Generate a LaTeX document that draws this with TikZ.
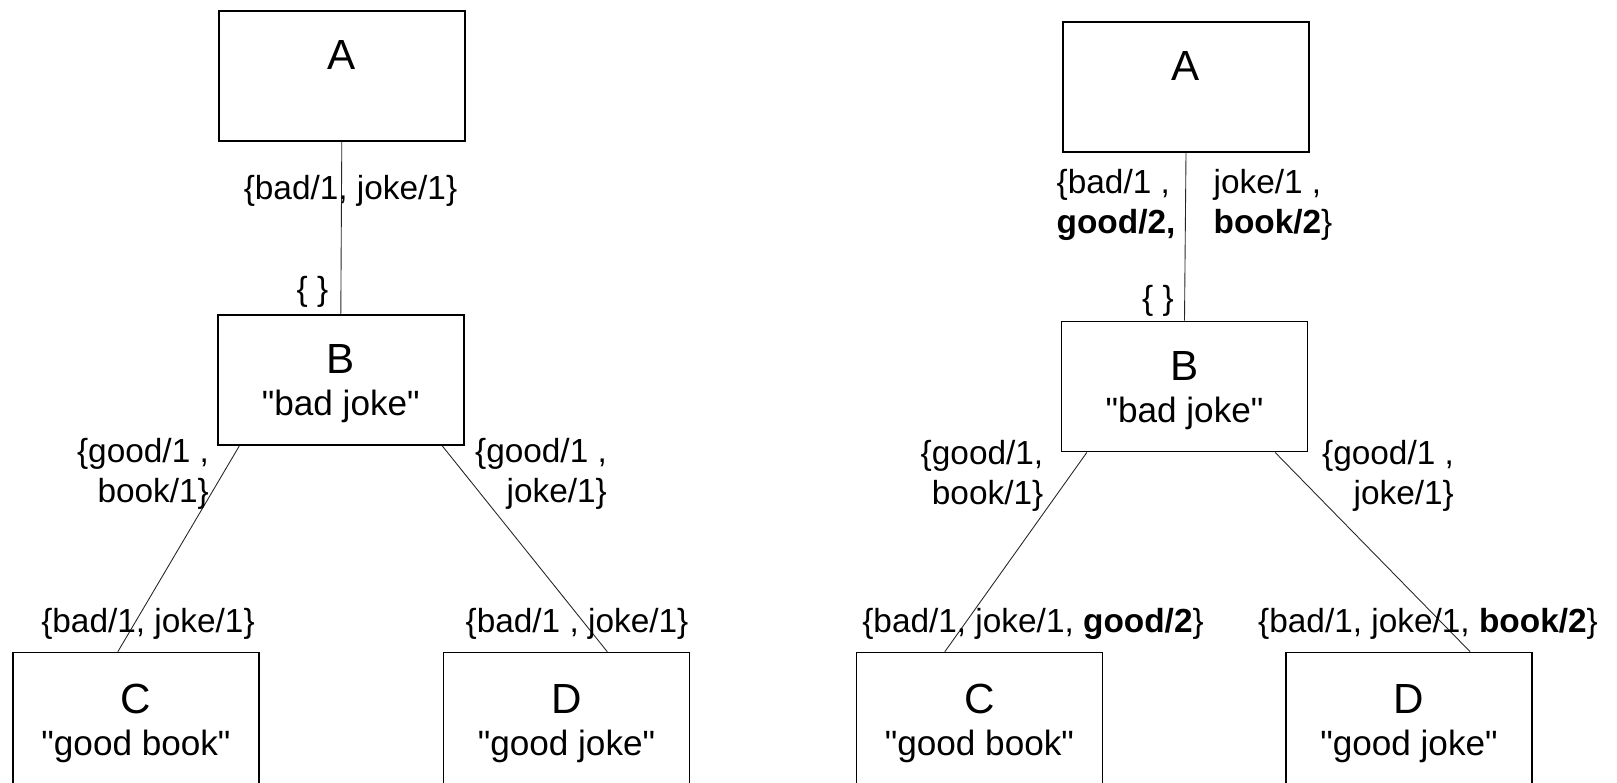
\documentclass[tikz,border=0pt]{standalone}
\usepackage{fontspec}
\setmainfont{Liberation Sans}
\usepackage{tikz}

\newcommand{\boxletter}[1]{\rule{0pt}{24pt}{\fontsize{24}{24}\selectfont #1}}
\newcommand{\quoted}[1]{\textquotedbl#1\textquotedbl}

\begin{document}
\begin{tikzpicture}[
            x=0.02cm, y=-0.02cm,
            squarebox/.style={rectangle, align=center, draw=black, line width=1pt, minimum width=4.92cm, minimum height=2.6cm, inner sep=0pt, font=\fontsize{20}{24}\selectfont},
            lowbox/.style={squarebox, minimum height=2.68cm},
            setlabel/.style={inner sep=0pt, align=center, font=\fontsize{19}{23}\selectfont},
            edge/.style={draw=black!85, line width=0.5pt},
        ]
        \useasboundingbox (0,0) rectangle (1617,783);
        \clip (0,0) rectangle (1617,783);

        % Nodes, left tree.
        \node[squarebox] (left_a) at (341.8,76.3)  {\boxletter{A}\\\strut};
        \node[squarebox] (left_b) at (340.8,380)   {\boxletter{B}\\\strut\quoted{bad joke}};
        \node[lowbox]    (left_c) at (136,719.6)   {\boxletter{C}\\\strut\quoted{good book}};
        \node[lowbox]    (left_d) at (566.5,719.6) {\boxletter{D}\\\strut\quoted{good joke}};

        % Nodes, right tree.
        \node[squarebox] (right_a) at (1186,87)      {\boxletter{A}\\\strut};
        \node[squarebox] (right_b) at (1184.5,386.6) {\boxletter{B}\\\strut\quoted{bad joke}};
        \node[lowbox]    (right_c) at (979.4,719.6)  {\boxletter{C}\\\strut\quoted{good book}};
        \node[lowbox]    (right_d) at (1409,719.6)   {\boxletter{D}\\\strut\quoted{good joke}};

        % Lines.
        \draw[edge] (left_a.south) -- (left_b.north);
        \draw[edge] (left_b.213) -- (left_c.105);
        \draw[edge] (left_b.327) -- (left_d.59);
        \draw[edge] (right_a.south) -- (right_b.north);
        \draw[edge] (right_b.214) -- (right_c.117);
        \draw[edge] (right_b.324) -- (right_d.48);

        % Labels, left tree.
        \node[setlabel] (left_ab_set) at (350.5,190.7) {\{bad/1, joke/1\}};
        \node[setlabel] (left_b_set)  at (312.5,292)   {\{ \}};
        \node[setlabel, align=right] (left_bc_set) at (143,474) {\{good/1 ,\\book/1\}};
        \node[setlabel, align=right] (left_bd_set) at (541,474) {\{good/1 ,\\joke/1\}};
        \node[setlabel] (left_c_set)  at (148,624)     {\{bad/1, joke/1\}};
        \node[setlabel] (left_d_set)  at (577,624)     {\{bad/1 , joke/1\}};

        % Labels, right tree.
        \node[setlabel, align=left] (right_ab_set_a) at (1116,205) {\{bad/1 ,\\\textbf{good/2,}};
        \node[setlabel, align=left] (right_ab_set_b) at (1273,205) {joke/1 ,\\\textbf{book/2}\}};
        \node[setlabel] (right_b_set) at (1158,301) {\{ \}};
        \node[setlabel, align=right] (right_bc_set) at (982,476)  {\{good/1,\\book/1\}};
        \node[setlabel, align=right] (right_bd_set) at (1388,476) {\{good/1 ,\\joke/1\}};
        \node[setlabel] (right_c_set) at (1033,624) {\{bad/1, joke/1, \textbf{good/2}\}};
        \node[setlabel] (right_d_set) at (1428,624) {\{bad/1, joke/1, \textbf{book/2}\}};
    \end{tikzpicture}
\end{document}
